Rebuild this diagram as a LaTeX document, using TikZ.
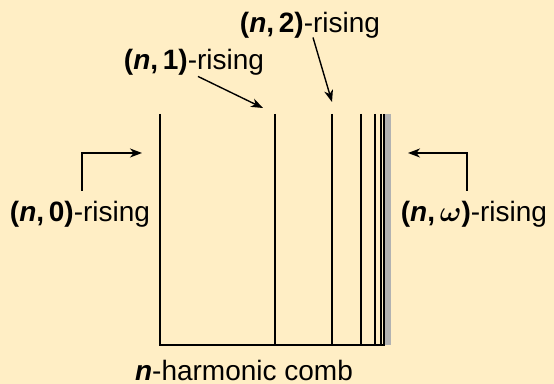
\documentclass[tikz,border=0pt]{standalone}
\usepackage{fontspec}
\setmainfont{Liberation Sans}
\usepackage{amsmath,bm}
\usepackage{tikz}
\usetikzlibrary{arrows.meta,positioning}
\definecolor{combbg}{HTML}{FFEEC5}
\tikzset{
  comb line/.style={draw=black,line width=0.7pt},
  comb arrow/.style={-{Stealth[length=6pt,width=4.5pt,inset=1.8pt]},draw=black,line width=0.7pt},
  rise label/.style={font=\fontsize{14}{16}\selectfont,inner sep=2pt}
}
\newcommand{\risepair}[1]{\textbf{(\textit{n},\,#1)}-rising}

\begin{document}
\begin{tikzpicture}[x=0.5pt,y=-0.5pt]
  \fill[combbg] (0,0) rectangle (554,384);
  \useasboundingbox (0,0) rectangle (554,384);
  % the comb
  \fill[black!30] (384,114) rectangle (391,345);
  \draw[comb line] (160,114) -- (160,345) -- (385,345);
  \foreach \x in {275,332,361,375,381,384}
    \draw[comb line] (\x,114) -- (\x,345);
  \coordinate (tip0) at (142,153);
  \coordinate (tip1) at (263,108);
  \coordinate (tip2) at (332,102);
  \coordinate (tipw) at (408,153);
  % labels
  \node[rise label] (rise0) at (80,214) {\risepair{0}};
  \node[rise label] (rise1) at (194,62) {\risepair{1}};
  \node[rise label] (rise2) at (310,25) {\risepair{2}};
  \node[rise label] (risew) at (474,214) {\textbf{(\textit{n},\,}$\bm{\omega}$\textbf{)}-rising};
  \node[rise label] (combname) at (244,370) {\textbf{\textit{n}}-harmonic comb};
  % arrows
  \draw[comb arrow] ([xshift=1pt,yshift=3pt]rise0.north) |- (tip0);
  \draw[comb arrow] ([xshift=-3.5pt,yshift=3pt]risew.north) |- (tipw);
  \draw[comb arrow] ([xshift=2pt,yshift=1.5pt]rise1.south) -- (tip1);
  \draw[comb arrow] ([xshift=1.5pt,yshift=2.5pt]rise2.south) -- (tip2);
\end{tikzpicture}
\end{document}
